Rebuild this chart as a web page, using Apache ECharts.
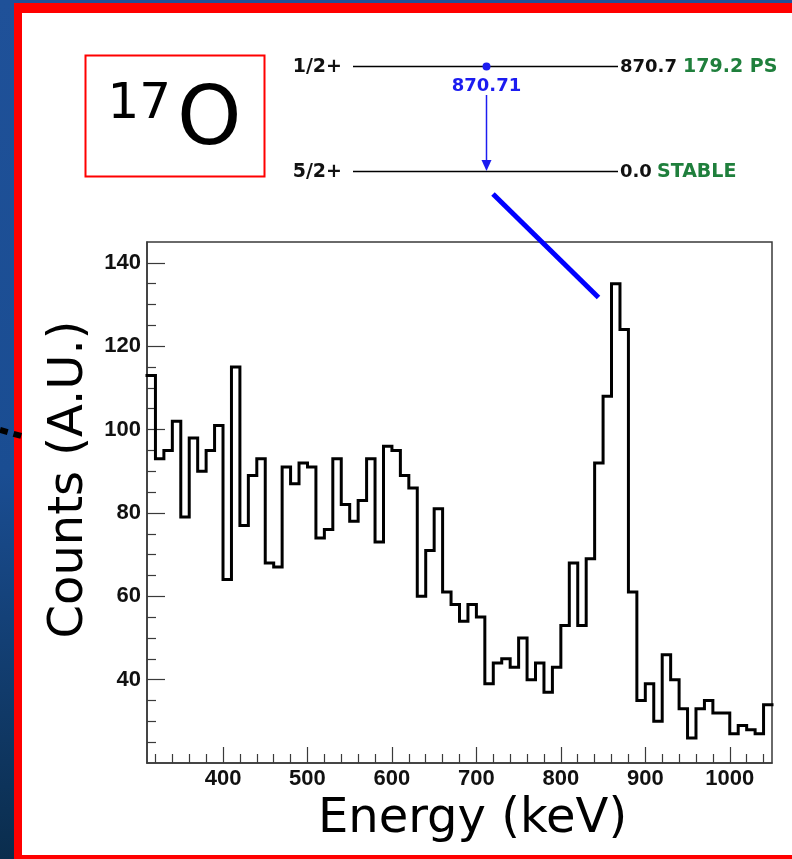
<!DOCTYPE html>
<html><head><meta charset="utf-8">
<script src="https://cdn.jsdelivr.net/npm/echarts@6/dist/echarts.min.js"></script>
<style>html,body{margin:0;padding:0;background:#fff}#c{width:792px;height:859px}</style>
</head><body><div id="c"></div>
<script>
// ---- data ----
const binLowEdges = [310,320,330,340,350,360,370,380,390,400,410,420,430,440,450,460,470,480,490,500,
  510,520,530,540,550,560,570,580,590,600,610,620,630,640,650,660,670,680,690,700,
  710,720,730,740,750,760,770,780,790,800,810,820,830,840,850,860,870,880,890,900,
  910,920,930,940,950,960,970,980,990,1000,1010,1020,1030,1040];
const lastBinEdge = 1050;
const counts = [113,93,95,102,79,98,90,95,101,64,115,77,89,93,68,67,91,87,92,91,
  74,76,93,82,78,83,93,73,96,95,89,86,60,71,81,61,58,54,58,55,
  39,44,45,43,50,40,44,37,43,53,68,53,69,92,108,135,124,61,35,39,
  30,46,40,33,26,33,35,32,32,27,29,28,27,34];
const xMajorTicks = [400,500,600,700,800,900,1000];
const xMinorTicks = [320,340,360,380,420,440,460,480,520,540,560,580,620,640,660,680,720,740,760,780,
  820,840,860,880,920,940,960,980,1020,1040];
const yMajorTicks = [40,60,80,100,120,140];
const yMinorTicks = [25,30,35,45,50,55,65,70,75,85,90,95,105,110,115,125,130,135];
const xRange = [310, 1050];
const yRange = [20, 145];
const xTitle = 'Energy (keV)';
const yTitle = 'Counts (A.U.)';

const histData = binLowEdges.map((e, i) => [e, counts[i]]);
histData.push([lastBinEdge, counts[counts.length - 1]]);

const chart = echarts.init(document.getElementById('c'), null, {renderer: 'canvas'});
const frameColor = '#3a3a3a';
const tickFont = {fontFamily: 'Liberation Sans', fontWeight: 'bold', fontSize: 22, color: '#111'};
const titleFont = {fontFamily: 'DejaVu Sans', fontSize: 48, color: '#000'};
const schemeFont = 'DejaVu Sans';
const green = '#1f7f3c';
const blue = '#1c1cf0';
const plain = v => String(v);

const grid = {left: 147, top: 242, width: 625, height: 521, show: true, borderColor: frameColor, borderWidth: 1.5, backgroundColor: 'transparent', containLabel: false};

function txt(x, y, s, color, align, size) {
  return {type: 'text', x: x, y: y, z: 5, style: {text: s, fill: color, font: 'bold ' + (size || 18) + 'px "' + schemeFont + '"', textAlign: align || 'left', textVerticalAlign: 'middle'}};
}

const option = {
  animation: false,
  grid: grid,
  xAxis: [{
    type: 'value', min: xRange[0], max: xRange[1], position: 'bottom',
    axisLine: {show: true, lineStyle: {color: frameColor, width: 1.5}},
    axisTick: {show: true, inside: true, length: 16, customValues: xMajorTicks, lineStyle: {color: frameColor, width: 1.2}},
    axisLabel: Object.assign({show: true, margin: 5, customValues: xMajorTicks, formatter: plain}, tickFont),
    splitLine: {show: false},
    name: xTitle, nameLocation: 'middle', nameGap: 33,
    nameTextStyle: Object.assign({padding: [0, 0, 0, 26]}, titleFont)
  }, {
    type: 'value', min: xRange[0], max: xRange[1], position: 'bottom',
    axisLine: {show: false},
    axisTick: {show: true, inside: true, length: 9, customValues: xMinorTicks, lineStyle: {color: frameColor, width: 1.2}},
    axisLabel: {show: false}, splitLine: {show: false}
  }],
  yAxis: [{
    type: 'value', min: yRange[0], max: yRange[1], position: 'left',
    axisLine: {show: true, lineStyle: {color: frameColor, width: 1.5}},
    axisTick: {show: true, inside: true, length: 18, customValues: yMajorTicks, lineStyle: {color: frameColor, width: 1.2}},
    axisLabel: Object.assign({show: true, margin: 6, customValues: yMajorTicks, formatter: plain}, tickFont),
    splitLine: {show: false},
    name: yTitle, nameLocation: 'middle', nameGap: 53,
    nameTextStyle: Object.assign({padding: [0, 0, 0, 46]}, titleFont)
  }, {
    type: 'value', min: yRange[0], max: yRange[1], position: 'left',
    axisLine: {show: false},
    axisTick: {show: true, inside: true, length: 9, customValues: yMinorTicks, lineStyle: {color: frameColor, width: 1.2}},
    axisLabel: {show: false}, splitLine: {show: false}
  }],
  series: [{
    type: 'line', xAxisIndex: 0, yAxisIndex: 0, step: 'end', data: histData,
    showSymbol: false, symbol: 'none', z: 3,
    lineStyle: {color: '#000', width: 3, join: 'miter', cap: 'square'}
  }],
  graphic: {elements: [
    // page background
    {type: 'rect', z: -30, shape: {x: 0, y: 0, width: 792, height: 859},
      style: {fill: new echarts.graphic.LinearGradient(0, 0, 0, 1, [
        {offset: 0, color: '#1f5199'}, {offset: 0.55, color: '#1a4d92'}, {offset: 1, color: '#0a2d4d'}])}},
    {type: 'rect', z: -29, shape: {x: 14, y: 3, width: 800, height: 860}, style: {fill: '#ff0000'}},
    {type: 'rect', z: -28, shape: {x: 22, y: 13, width: 800, height: 842}, style: {fill: '#ffffff'}},
    // dotted leader at left edge
    {type: 'line', z: 6, shape: {x1: 0, y1: 430, x2: 25, y2: 437}, style: {stroke: '#000', lineWidth: 6, lineDash: [8, 6]}},
    // isotope box
    {type: 'rect', z: 4, shape: {x: 85.5, y: 55.5, width: 179, height: 121}, style: {fill: 'none', stroke: '#ff0000', lineWidth: 2}},
    {type: 'text', z: 5, x: 171, y: 105, style: {text: '17', fill: '#000', font: '50px "DejaVu Sans"', textAlign: 'right', textVerticalAlign: 'middle'}},
    {type: 'text', z: 5, x: 177, y: 123, style: {text: 'O', fill: '#000', font: '82px "DejaVu Sans"', textAlign: 'left', textVerticalAlign: 'middle'}},
    // level scheme
    {type: 'line', z: 4, shape: {x1: 353, y1: 66.5, x2: 618, y2: 66.5}, style: {stroke: '#000', lineWidth: 1.5}},
    {type: 'line', z: 4, shape: {x1: 353, y1: 171.5, x2: 618, y2: 171.5}, style: {stroke: '#000', lineWidth: 1.5}},
    {type: 'circle', z: 5, shape: {cx: 486.5, cy: 66.5, r: 4}, style: {fill: blue}},
    {type: 'line', z: 5, shape: {x1: 486.5, y1: 95, x2: 486.5, y2: 162}, style: {stroke: blue, lineWidth: 1.5}},
    {type: 'polygon', z: 5, shape: {points: [[481.5, 160], [491.5, 160], [486.5, 171]]}, style: {fill: blue}},
    txt(342, 67, '1/2+', '#111', 'right', 19),
    txt(342, 172, '5/2+', '#111', 'right', 19),
    txt(486.5, 86, '870.71', blue, 'center'),
    txt(620, 67, '870.7', '#111', 'left'),
    txt(683, 67, '179.2 PS', green, 'left', 19),
    txt(620, 172, '0.0', '#111', 'left'),
    txt(657, 172, 'STABLE', green, 'left', 19),
    // connector from scheme to peak
    {type: 'line', z: 6, shape: {x1: 493, y1: 194, x2: 598.5, y2: 297.5}, style: {stroke: '#0000ff', lineWidth: 5}}
  ]}
};
chart.setOption(option);
</script>
</body></html>
